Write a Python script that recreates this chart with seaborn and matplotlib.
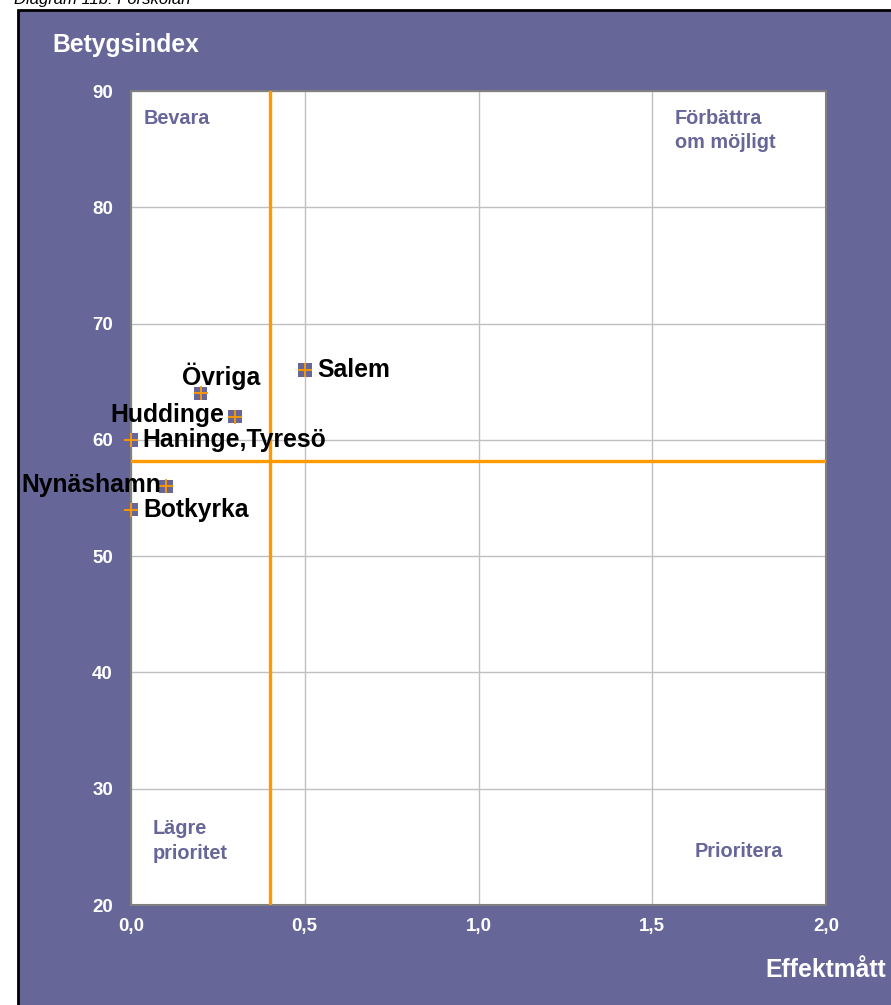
import matplotlib
matplotlib.use("Agg")
import matplotlib.pyplot as plt
from matplotlib.patches import Rectangle
import seaborn as sns
import pandas as pd

# ---- data ----
names = ["Salem", "Övriga", "Huddinge", "Haninge,Tyresö", "Nynäshamn", "Botkyrka"]
effekt = [0.5, 0.2, 0.3, 0.0, 0.1, 0.0]
betyg = [66, 64, 62, 60, 56, 54]
x_ticks = [0.0, 0.5, 1.0, 1.5, 2.0]
x_ticklabels = ["0,0", "0,5", "1,0", "1,5", "2,0"]
y_ticks = [20, 30, 40, 50, 60, 70, 80, 90]
ref_x = 0.4
ref_y = 58.2
quadrants = ["Bevara", "Förbättra\nom möjligt", "Lägre\nprioritet", "Prioritera"]

df = pd.DataFrame({"name": names, "Effektmått": effekt, "Betygsindex": betyg})

PURPLE = "#666699"
ORANGE = "#ff9900"

sns.set_theme(style="white")
plt.rcParams["font.family"] = ["Liberation Sans", "DejaVu Sans"]

W, H = 891, 1005
fig = plt.figure(figsize=(W / 100, H / 100), dpi=100)
fig.patch.set_facecolor("white")

# background panel
panel = Rectangle((18 / W, -0.05), 1.2, 1 - 10 / H + 0.05, transform=fig.transFigure,
                  facecolor=PURPLE, edgecolor="black", linewidth=2, zorder=-10)
fig.patches.append(panel)

fig.text(14 / W, 1 - 4 / H, "Diagram 11b: Förskolan", fontsize=12, style="italic",
         ha="left", va="baseline", color="black")

ax = fig.add_axes([131 / W, 1 - 905 / H, 695 / W, 814 / H])
ax.set_zorder(1)
ax.set_facecolor("white")

sns.scatterplot(data=df, x="Effektmått", y="Betygsindex", marker="s", s=95,
                color=PURPLE, edgecolor="none", ax=ax, zorder=4)
sns.scatterplot(data=df, x="Effektmått", y="Betygsindex", marker="+", s=95,
                color=ORANGE, linewidth=1.3, ax=ax, zorder=5)
for coll in ax.collections:
    coll.set_clip_on(False)

ax.axvline(ref_x, color=ORANGE, lw=2.4, zorder=3)
ax.axhline(ref_y, color=ORANGE, lw=2.4, zorder=3)

ax.set_xlim(0, 2.0)
ax.set_ylim(20, 90)
ax.set_xticks(x_ticks)
ax.set_xticklabels(x_ticklabels)
ax.set_yticks(y_ticks)
ax.set_yticklabels([str(v) for v in y_ticks])
ax.tick_params(axis="both", length=0, labelsize=13.5, labelcolor="white")
ax.tick_params(axis="x", pad=9)
ax.tick_params(axis="y", pad=13)
for lab in ax.get_xticklabels() + ax.get_yticklabels():
    lab.set_fontweight("bold")
ax.grid(True, color="#c0c0c0", lw=1)
ax.set_axisbelow(True)
for sp in ax.spines.values():
    sp.set_color("#808080")
    sp.set_linewidth(1.5)
ax.set_xlabel("")
ax.set_ylabel("")

# point labels
placement = {
    "Salem": ((9, 0), "left"),
    "Övriga": ((15, 12), "center"),
    "Huddinge": ((-8, 1), "right"),
    "Haninge,Tyresö": ((8, 0), "left"),
    "Nynäshamn": ((-3, 1), "right"),
    "Botkyrka": ((9, 0), "left"),
}
for n, xv, yv in zip(names, effekt, betyg):
    off, ha = placement[n]
    ax.annotate(n, (xv, yv), xytext=off, textcoords="offset points", ha=ha, va="center",
                fontsize=17.8, fontweight="bold", color="black", zorder=6,
                annotation_clip=False)

# quadrant labels
qpos = [(0.035, 87.6), (1.565, 86.6), (0.063, 25.5), (1.623, 24.6)]
for t, (qx, qy) in zip(quadrants, qpos):
    ax.text(qx, qy, t, ha="left", va="center", fontsize=14.3, fontweight="bold",
            color=PURPLE, linespacing=1.35, zorder=6)

fig.text(52 / W, 1 - 45 / H, "Betygsindex", ha="left", va="center", fontsize=17.8,
         fontweight="bold", color="white")
fig.text(886 / W, 1 - 970 / H, "Effektmått", ha="right", va="center", fontsize=17.8,
         fontweight="bold", color="white")

fig.savefig("out.png", dpi=100)
